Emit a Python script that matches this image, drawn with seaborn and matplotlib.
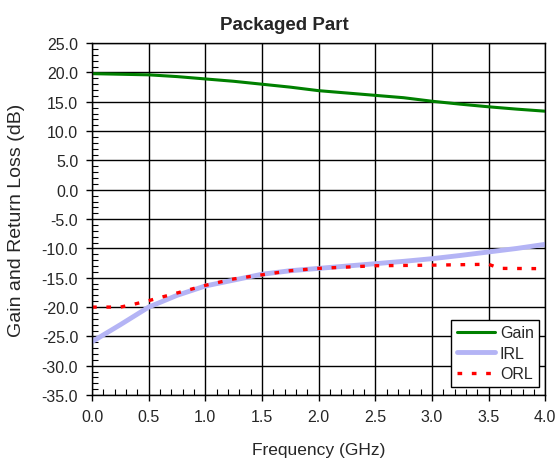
import numpy as np
import pandas as pd
import matplotlib
matplotlib.use("Agg")
import matplotlib.pyplot as plt
import seaborn as sns
from matplotlib.ticker import MultipleLocator, FormatStrFormatter

# frequency points (GHz)
freq = [0.0, 0.25, 0.5, 0.75, 1.0, 1.25, 1.5, 1.75, 2.0, 2.25, 2.5, 2.75, 3.0, 3.25, 3.5, 3.75, 4.0]
gain = [19.8, 19.7, 19.6, 19.3, 18.9, 18.5, 18.0, 17.5, 16.9, 16.5, 16.1, 15.7, 15.1, 14.6, 14.15, 13.75, 13.4]
irl = [-25.9, -23.0, -20.0, -18.0, -16.4, -15.4, -14.4, -13.8, -13.4, -13.0, -12.6, -12.2, -11.75, -11.2, -10.6, -10.0, -9.3]

orl_freq = [0.0, 0.25, 0.35, 0.5, 0.75, 1.0, 1.25, 1.5, 1.75, 2.0, 2.5, 3.0, 3.5, 3.6, 4.0]
orl = [-20.0, -20.0, -19.6, -18.9, -17.6, -16.3, -15.2, -14.5, -13.8, -13.4, -12.95, -12.85, -12.7, -13.4, -13.45]

sns.set_style("white")
plt.rcParams["font.family"] = ["Liberation Sans", "DejaVu Sans"]

fig = plt.figure(figsize=(5.58, 4.6), dpi=100)
ax = fig.add_axes([0.165, 0.139, 0.812, 0.765])

sns.lineplot(x=freq, y=gain, ax=ax, color="#008000", linewidth=2.2, label="Gain")
sns.lineplot(x=freq, y=irl, ax=ax, color="#b4b4f5", linewidth=3.5, label="IRL")
sns.lineplot(x=orl_freq, y=orl, ax=ax, color="#ff0000", linewidth=2.4,
             linestyle=(0, (1.4, 2.9)), label="ORL")

ax.set_xlim(0, 4)
ax.set_ylim(-35, 25)
ax.xaxis.set_major_locator(MultipleLocator(0.5))
ax.xaxis.set_minor_locator(MultipleLocator(0.1))
ax.yaxis.set_major_locator(MultipleLocator(5))
ax.yaxis.set_minor_locator(MultipleLocator(1))
ax.xaxis.set_major_formatter(FormatStrFormatter("%.1f"))
ax.yaxis.set_major_formatter(FormatStrFormatter("%.1f"))
ax.tick_params(axis="both", which="both", bottom=True, left=True, top=False, right=False)
ax.tick_params(axis="both", which="major", direction="out", length=4, width=1,
               labelsize=11.5, color="black", pad=6)
ax.tick_params(axis="both", which="minor", direction="in", length=4, width=0.8, color="black")
ax.tick_params(axis="x", which="major", pad=6)
ax.grid(True, which="major", color="black", linewidth=1)
for s in ax.spines.values():
    s.set_color("black")
    s.set_linewidth(1)

fig.text(0.51, 0.935, "Packaged Part", fontsize=13.5, fontweight="bold", ha="center", va="baseline")
ax.set_xlabel("Frequency (GHz)", fontsize=12.5, labelpad=13)
ax.set_ylabel("Gain and Return Loss (dB)", fontsize=14, labelpad=12)

leg = ax.legend(loc="lower right", bbox_to_anchor=(0.987, 0.023), fontsize=11.5, frameon=True,
                fancybox=False, edgecolor="black", framealpha=1, handlelength=2.4,
                borderaxespad=0, labelspacing=0.35, handletextpad=0.3, borderpad=0.35)
leg.get_frame().set_linewidth(1)

fig.savefig("out.png", dpi=100)
